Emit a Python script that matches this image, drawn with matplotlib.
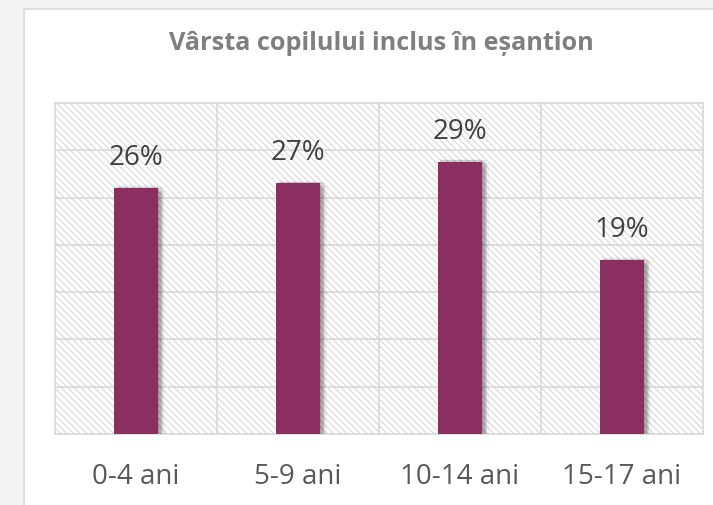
import matplotlib
matplotlib.use("Agg")
import matplotlib.pyplot as plt
import matplotlib.patches as patches
import matplotlib.patheffects as pe
import numpy as np

# chart data
categories = ["0-4 ani", "5-9 ani", "10-14 ani", "15-17 ani"]
values = [26.0, 26.5, 28.8, 18.4]
value_labels = ["26%", "27%", "29%", "19%"]
title = "Vârsta copilului inclus în eșantion"

BAR_COLOR = "#8B2F61"
GRID_COLOR = "#d9d9d9"

plt.rcParams["font.family"] = ["Open Sans", "DejaVu Sans"]
plt.rcParams["hatch.linewidth"] = 0.7

fig = plt.figure(figsize=(7.13, 5.05), dpi=100)
fig.patch.set_facecolor("#f2f2f2")

# white card behind everything
card = patches.Rectangle((24 / 713, -0.01), 1.0, (505 - 9) / 505 + 0.01,
                         transform=fig.transFigure, facecolor="white",
                         edgecolor="#d9d9d9", linewidth=1.2, zorder=-10)
fig.patches.append(card)

ax = fig.add_axes([55 / 713, (505 - 434) / 505, (703 - 55) / 713, (434 - 103) / 505])
ax.set_zorder(1)
ax.patch.set_facecolor("white")
# diagonal hatch fill of the plot area
ax.add_patch(patches.Rectangle((0, 0), 1, 1, transform=ax.transAxes, facecolor="white",
                               edgecolor="#d2d2d2", linewidth=0, hatch="\\\\\\\\\\", zorder=0.5))

x = np.arange(len(categories))
# soft drop shadow, built from a few stacked offsets
shadow = [pe.SimplePatchShadow(offset=(dx, dy), shadow_rgbFace="k", alpha=0.05)
          for dx, dy in [(1, 1), (2, 1), (3, 1), (4, 0), (4, -2), (3, -3), (2, -4), (1, 2), (5, -1)]]
bars = ax.bar(x, values, width=0.27, color=BAR_COLOR, zorder=3)
for b in bars:
    b.set_path_effects(shadow + [pe.Normal()])

for xi, v, lab in zip(x, values, value_labels):
    ax.text(xi, v + 1.7, lab, ha="center", va="bottom", fontsize=20, color="#404040", zorder=4)

ax.set_xlim(-0.5, len(categories) - 0.5)
ax.set_ylim(0, 35)
ax.set_yticks(np.arange(0, 36, 5))
ax.set_xticks(x)
ax.set_xticklabels(categories, fontsize=20, color="#595959")
ax.set_xticks(x[:-1] + 0.5, minor=True)
ax.tick_params(axis="x", which="both", length=0, pad=21)
ax.tick_params(axis="y", length=0, labelleft=False)
ax.grid(True, axis="y", color=GRID_COLOR, linewidth=1.2, zorder=1)
ax.grid(True, axis="x", which="minor", color=GRID_COLOR, linewidth=1.2, zorder=1)
ax.grid(False, axis="x", which="major")
ax.set_axisbelow(True)
for s in ax.spines.values():
    s.set_color(GRID_COLOR)
    s.set_linewidth(1.2)

fig.text(381 / 713, 1 - 43 / 505, title, ha="center", va="center",
         fontsize=18.2, fontweight="bold", color="#7f7f7f")

fig.savefig("out.png", dpi=100, facecolor=fig.get_facecolor())
